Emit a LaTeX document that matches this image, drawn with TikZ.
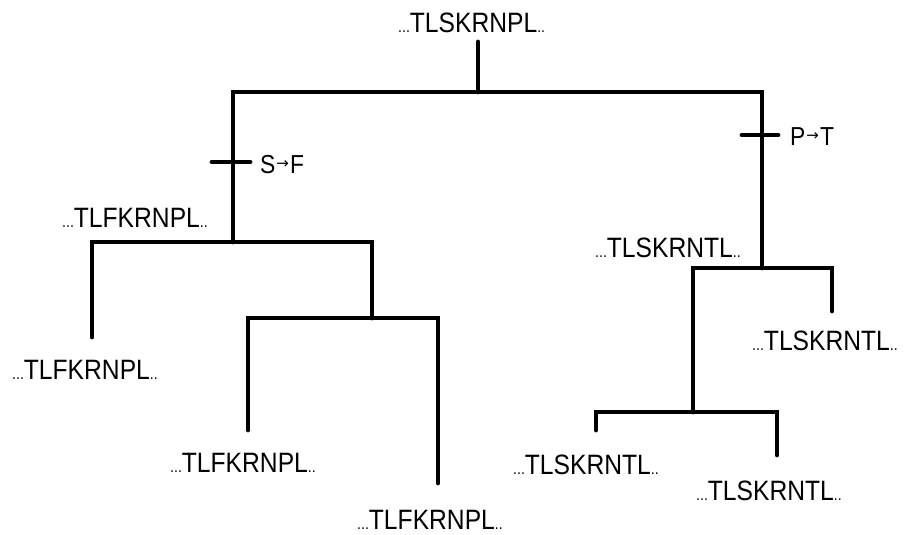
\documentclass[tikz,border=0pt]{standalone}
\usepackage{fontspec}
\setmainfont[FakeStretch=0.88]{Liberation Sans}
\newfontfamily\arrowfont{DejaVu Sans}
\newcommand{\smalldots}[1]{{\fontsize{16}{16}\selectfont #1}}
\newcommand{\seq}[1]{\smalldots{...}#1\smalldots{..}}
\newcommand{\mutarrow}{\kern1pt{\arrowfont\fontsize{15}{15}\selectfont\raisebox{5pt}{→}}\kern1pt}
\begin{document}
\begin{tikzpicture}[x=1pt,y=-1pt,
  branch/.style={line width=4.8pt, line cap=round, line join=miter},
  tick/.style={line width=4.8pt, line cap=round},
  seqlabel/.style={anchor=base west, inner sep=0pt, font=\fontsize{28}{28}\selectfont},
  mutlabel/.style={anchor=base west, inner sep=0pt, font=\fontsize{26}{26}\selectfont}]
\useasboundingbox (0,0) rectangle (910,535);

% sequence labels
\node[seqlabel] (root) at (398,33) {\seq{TLSKRNPL}};
\node[seqlabel] (nodeF) at (62,227) {\seq{TLFKRNPL}};
\node[seqlabel] (nodeT) at (595,257) {\seq{TLSKRNTL}};
\node[seqlabel] (leafA) at (12,379) {\seq{TLFKRNPL}};
\node[seqlabel] (leafB) at (170,472) {\seq{TLFKRNPL}};
\node[seqlabel] (leafC) at (357,529) {\seq{TLFKRNPL}};
\node[seqlabel] (leafD) at (752,350) {\seq{TLSKRNTL}};
\node[seqlabel] (leafE) at (513,474) {\seq{TLSKRNTL}};
\node[seqlabel] (leafF) at (696,500) {\seq{TLSKRNTL}};

% mutation labels
\node[mutlabel] (mutSF) at (260,173) {S\mutarrow F};
\node[mutlabel] (mutPT) at (790,145) {P\mutarrow T};

% tree joints
\coordinate (r0) at (478,42);
\coordinate (r1) at (478,92);
\coordinate (tl) at (233,92);
\coordinate (tr) at (762,92);
\coordinate (jl) at (233,242);
\coordinate (jr) at (762,268);
\coordinate (l0) at (92,242);
\coordinate (l1) at (372,242);
\coordinate (la) at (92,337);
\coordinate (l2) at (372,318);
\coordinate (l3) at (248,318);
\coordinate (l4) at (438,318);
\coordinate (lb) at (248,430);
\coordinate (lc) at (438,483);
\coordinate (r2) at (693,268);
\coordinate (r3) at (832,268);
\coordinate (rd) at (832,311);
\coordinate (r4) at (693,412);
\coordinate (r5) at (596,412);
\coordinate (r6) at (777,412);
\coordinate (re) at (596,430);
\coordinate (rf) at (777,455);
\coordinate (ts1) at (212,162);
\coordinate (ts2) at (250,162);
\coordinate (tp1) at (742,135);
\coordinate (tp2) at (778,135);

% branches
\draw[branch] (r0) -- (r1);
\draw[branch] (jl) -- (tl) -- (tr) -- (jr);
\draw[branch] (la) -- (l0) -- (l1) -- (l2);
\draw[branch] (lb) -- (l3) -- (l4) -- (lc);
\draw[branch] (rd) -- (r3) -- (r2) -- (r4);
\draw[branch] (re) -- (r5) -- (r6) -- (rf);

% mutation ticks
\draw[tick] (ts1) -- (ts2);
\draw[tick] (tp1) -- (tp2);
\end{tikzpicture}
\end{document}
